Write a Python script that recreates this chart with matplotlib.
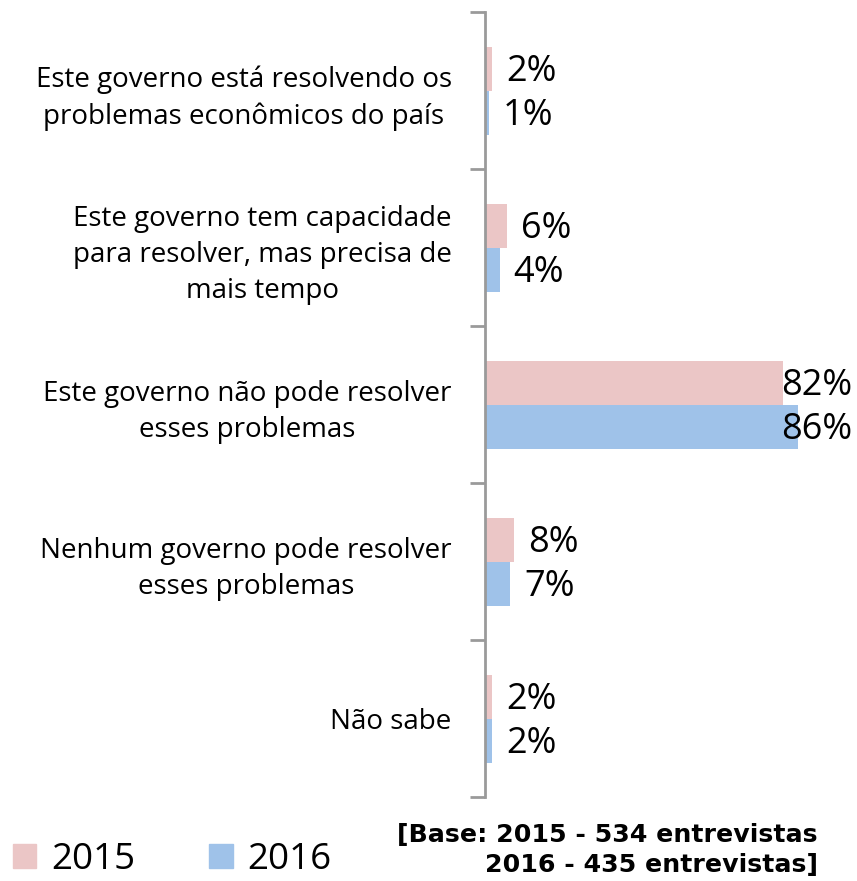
import numpy as np
import matplotlib
matplotlib.use('Agg')
from matplotlib import pyplot as plt
from matplotlib.patches import Patch

plt.rcParams['font.family'] = ['Open Sans', 'DejaVu Sans']

categories = [
    'Este governo está resolvendo os\nproblemas econômicos do país',
    'Este governo tem capacidade\npara resolver, mas precisa de\nmais tempo',
    'Este governo não pode resolver\nesses problemas',
    'Nenhum governo pode resolver\nesses problemas',
    'Não sabe',
]
v2015 = [2, 6, 82, 8, 2]
v2016 = [1, 4, 86, 7, 2]
years = ['2015', '2016']
colors = ['#EBC6C6', '#9FC2E9']

fig = plt.figure(figsize=(8.57, 8.81), dpi=100)
ax = fig.add_axes([0.566, 0.095, 0.424, 0.891])

y = np.arange(len(categories))
h = 0.28
xmax = 100
ax.barh(y - h / 2, v2015, height=h, color=colors[0])
ax.barh(y + h / 2, v2016, height=h, color=colors[1])

# value labels just past the bar end, pulled back inside when they'd run off
for vals, off in ((v2015, -h / 2), (v2016, h / 2)):
    for i, v in enumerate(vals):
        if v > 75:
            ax.text(xmax + 1, i + off + 0.02, f'{v}%', ha='right', va='center',
                    fontsize=26)
        else:
            ax.text(v + 3.8, i + off + 0.02, f'{v}%', ha='left', va='center',
                    fontsize=26)

ax.set_xlim(0, xmax)
ax.set_ylim(len(categories) - 0.5, -0.5)
ax.set_xticks([])
ax.set_yticks(y)
ax.set_yticklabels(categories, fontsize=20, linespacing=1.38,
                   multialignment='center')
ax.set_yticks(np.arange(-0.5, len(categories)), minor=True)
ax.tick_params(axis='y', which='major', length=0, pad=24)
ax.tick_params(axis='y', which='minor', length=11, width=2, color='#9a9a9a')
for s in ('top', 'right', 'bottom'):
    ax.spines[s].set_visible(False)
ax.spines['left'].set_color('#9a9a9a')
ax.spines['left'].set_linewidth(2)

handles = [Patch(color=c) for c in colors]
fig.legend(handles, years, loc='center left', bbox_to_anchor=(0.006, 0.024),
           ncol=2, frameon=False, fontsize=26.5, handlelength=0.65,
           handleheight=0.65, handletextpad=0.4, columnspacing=2.0,
           borderaxespad=0, borderpad=0.2)

fig.text(0.954, 0.035, '[Base: 2015 - 534 entrevistas\n2016 - 435 entrevistas]',
         ha='right', va='center', multialignment='right', fontsize=18.2,
         fontweight='bold', family='DejaVu Sans', linespacing=1.3)

fig.savefig('out.png', dpi=100)
